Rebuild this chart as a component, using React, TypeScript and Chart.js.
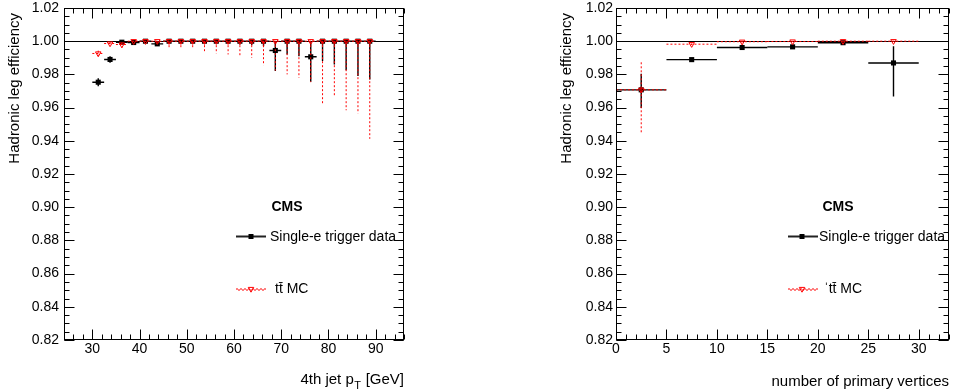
import React, { useEffect, useRef } from "react";
import { Chart, registerables } from "chart.js";

Chart.register(...registerables);

const FONT = "'Liberation Sans', Arial, Helvetica, sans-serif";

// ---------- shared y axis ----------
const yTickValues = [0.82, 0.84, 0.86, 0.88, 0.9, 0.92, 0.94, 0.96, 0.98, 1.0, 1.02];
const yMin = 0.82;
const yMax = 1.02;
const yMinorStep = 0.005;
const yTitle = "Hadronic leg efficiency";

// ---------- left panel: 4th jet pT ----------
const ptCenters = [31.25, 33.75, 36.25, 38.75, 41.25, 43.75, 46.25, 48.75, 51.25, 53.75, 56.25, 58.75, 61.25, 63.75, 66.25, 68.75, 71.25, 73.75, 76.25, 78.75, 81.25, 83.75, 86.25, 88.75];
const ptHalfWidth = 1.25;
const ptDataEff = [0.9753, 0.989, 0.9994, 0.9992, 1.0, 0.9984, 1.0, 1.0, 1.0, 1.0, 1.0, 1.0, 1.0, 1.0, 1.0, 0.9944, 1.0, 1.0, 0.9906, 1.0, 1.0, 1.0, 1.0, 1.0];
const ptDataErrLo = [0.0024, 0.002, 0.0006, 0.0006, 0.0003, 0.0008, 0.0004, 0.0005, 0.0006, 0.0008, 0.001, 0.0012, 0.002, 0.0025, 0.003, 0.0124, 0.008, 0.009, 0.0151, 0.012, 0.014, 0.0175, 0.021, 0.023];
const ptDataErrHi = [0.0024, 0.002, 0.0004, 0.0005, 0, 0.0009, 0, 0, 0, 0, 0, 0, 0, 0, 0, 0.0056, 0, 0, 0.0094, 0, 0, 0, 0, 0];
const ptMcEff = [0.9926, 0.9986, 0.998, 1.0, 1.0, 1.0, 1.0, 1.0, 1.0, 1.0, 1.0, 1.0, 1.0, 1.0, 1.0, 1.0, 1.0, 1.0, 1.0, 1.0, 1.0, 1.0, 1.0, 1.0];
const ptMcErrLo = [0.0017, 0.0008, 0.002, 0.0004, 0.0005, 0.001, 0.004, 0.004, 0.004, 0.006, 0.0074, 0.008, 0.0096, 0.01, 0.0145, 0.0177, 0.02, 0.022, 0.0247, 0.0375, 0.0337, 0.0416, 0.0435, 0.0588];
const ptMcErrHi = [0.0017, 0.0008, 0.001, 0, 0, 0, 0, 0, 0, 0, 0, 0, 0, 0, 0, 0, 0, 0, 0, 0, 0, 0, 0, 0];
const ptTicks = [30, 40, 50, 60, 70, 80, 90];
const ptMin = 24;
const ptMax = 96;
const ptMinorStep = 2;

// ---------- right panel: number of primary vertices ----------
const nvCenters = [2.5, 7.5, 12.5, 17.5, 22.5, 27.5];
const nvHalfWidth = 2.5;
const nvDataEff = [0.9707, 0.9889, 0.9962, 0.9966, 0.9991, 0.9869];
const nvDataErrLo = [0.011, 0.0006, 0.0004, 0.0004, 0.0012, 0.0202];
const nvDataErrHi = [0.0097, 0.0005, 0.0003, 0.0003, 0.0007, 0.0101];
const nvMcEff = [0.9707, 0.9982, 0.9997, 0.9998, 1.0, 1.0];
const nvMcErrLo = [0.0262, 0.0005, 0.0003, 0.0002, 0.0002, 0.0002];
const nvMcErrHi = [0.0166, 0.0003, 0.0002, 0.0002, 0, 0];
const nvTicks = [0, 5, 10, 15, 20, 25, 30];
const nvMin = 0;
const nvMax = 33;
const nvMinorStep = 1;

const legendData = "Single-e trigger data";
const legendMc = "t\u0074\u0304 MC";
const cmsLabel = "CMS";

type Panel = {
  x: number[];
  half: number;
  data: number[];
  dataLo: number[];
  dataHi: number[];
  mc: number[];
  mcLo: number[];
  mcHi: number[];
  xTicks: number[];
  xMin: number;
  xMax: number;
  xMinor: number;
  yWidth: number;
  padRight: number;
  yLabelPad: number;
  yTitleX: number;
  xTitleMain: string;
  xTitleSub?: string;
  xTitleAfter?: string;
  xTitleBaseline: number;
  mcPrefix?: string;
  cmsX: number;
  legLineX0: number;
  legMarkX: number;
  legTextX: number;
  legMcTextX: number;
};

function drawTriangleDown(ctx: CanvasRenderingContext2D, x: number, y: number, r: number) {
  ctx.beginPath();
  ctx.moveTo(x - r * 0.866, y - r * 0.5);
  ctx.lineTo(x + r * 0.866, y - r * 0.5);
  ctx.lineTo(x, y + r);
  ctx.closePath();
  ctx.stroke();
}

function makePlugin(p: Panel) {
  return {
    id: "rootStyle",
    beforeDatasetsDraw(chart: any) {
      const { ctx, chartArea: ca } = chart;
      const ys = chart.scales.y;
      const py = Math.round(ys.getPixelForValue(1.0)) + 0.5;
      ctx.save();
      ctx.strokeStyle = "#000";
      ctx.lineWidth = 1.2;
      ctx.beginPath();
      ctx.moveTo(ca.left, py);
      ctx.lineTo(ca.right, py);
      ctx.stroke();
      ctx.restore();
    },
    beforeDatasetDraw(chart: any, args: any) {
      const { ctx } = chart;
      const xs = chart.scales.x;
      const ys = chart.scales.y;
      const isMc = args.index === 0;
      const vals = isMc ? p.mc : p.data;
      const lo = isMc ? p.mcLo : p.dataLo;
      const hi = isMc ? p.mcHi : p.dataHi;
      ctx.save();
      if (isMc) {
        ctx.strokeStyle = "#ff0000";
        ctx.lineWidth = 1;
        ctx.setLineDash([2, 2]);
      } else {
        ctx.strokeStyle = "#000";
        ctx.lineWidth = 1.4;
      }
      for (let i = 0; i < p.x.length; i++) {
        const px = xs.getPixelForValue(p.x[i]);
        const py = ys.getPixelForValue(vals[i]);
        ctx.beginPath();
        ctx.moveTo(xs.getPixelForValue(p.x[i] - p.half), py);
        ctx.lineTo(xs.getPixelForValue(p.x[i] + p.half), py);
        ctx.moveTo(px, ys.getPixelForValue(vals[i] + hi[i]));
        ctx.lineTo(px, ys.getPixelForValue(vals[i] - lo[i]));
        ctx.stroke();
      }
      ctx.restore();
    },
    afterDraw(chart: any) {
      const { ctx, chartArea: ca } = chart;
      const xs = chart.scales.x;
      const ys = chart.scales.y;
      ctx.save();
      ctx.strokeStyle = "#000";
      ctx.lineWidth = 1;
      const L = Math.round(ca.left) + 0.5;
      const R = Math.round(ca.right) - 0.5;
      const T = Math.round(ca.top) + 0.5;
      const B = Math.round(ca.bottom) - 0.5;
      ctx.strokeRect(L, T, R - L, B - T);
      ctx.beginPath();
      const yTick = (v: number, len: number) => {
        const py = Math.round(ys.getPixelForValue(v)) + 0.5;
        ctx.moveTo(L, py);
        ctx.lineTo(L + len, py);
        ctx.moveTo(R, py);
        ctx.lineTo(R - len, py);
      };
      const xTick = (v: number, len: number) => {
        const px = Math.round(xs.getPixelForValue(v)) + 0.5;
        ctx.moveTo(px, B);
        ctx.lineTo(px, B - len);
        ctx.moveTo(px, T);
        ctx.lineTo(px, T + len);
      };
      for (let v = yMin; v <= yMax + 1e-9; v += yMinorStep) yTick(v, 5);
      yTickValues.forEach((v) => yTick(v, 10));
      for (let v = p.xMin + ((p.xMinor - (p.xMin % p.xMinor)) % p.xMinor); v <= p.xMax + 1e-9; v += p.xMinor) xTick(v, 5);
      p.xTicks.forEach((v) => xTick(v, 10));
      ctx.stroke();

      // y title
      ctx.fillStyle = "#000";
      ctx.font = `15px ${FONT}`;
      ctx.save();
      ctx.translate(p.yTitleX, 13);
      ctx.rotate(-Math.PI / 2);
      ctx.textAlign = "right";
      ctx.textBaseline = "alphabetic";
      ctx.fillText(yTitle, 0, 0);
      ctx.restore();

      // x title (right aligned at frame right)
      ctx.textBaseline = "alphabetic";
      ctx.textAlign = "left";
      const mainFont = `15px ${FONT}`;
      const subFont = `11px ${FONT}`;
      ctx.font = mainFont;
      const wMain = ctx.measureText(p.xTitleMain).width;
      const wAfter = p.xTitleAfter ? ctx.measureText(p.xTitleAfter).width : 0;
      ctx.font = subFont;
      const wSub = p.xTitleSub ? ctx.measureText(p.xTitleSub).width + 1 : 0;
      let tx = ca.right - (wMain + wSub + wAfter);
      const by = p.xTitleBaseline;
      ctx.font = mainFont;
      ctx.fillText(p.xTitleMain, tx, by);
      tx += wMain;
      if (p.xTitleSub) {
        ctx.font = subFont;
        ctx.fillText(p.xTitleSub, tx + 0.5, by + 5);
        tx += wSub;
      }
      if (p.xTitleAfter) {
        ctx.font = mainFont;
        ctx.fillText(p.xTitleAfter, tx, by);
      }

      // CMS label
      ctx.font = `bold 14px ${FONT}`;
      ctx.textAlign = "center";
      ctx.textBaseline = "middle";
      ctx.fillText(cmsLabel, p.cmsX, 207);

      // legend: data
      const yD = 236.5;
      const yM = 289;
      ctx.strokeStyle = "#222";
      ctx.lineWidth = 2;
      ctx.beginPath();
      ctx.moveTo(p.legLineX0, yD);
      ctx.lineTo(p.legLineX0 + 30, yD);
      ctx.stroke();
      ctx.fillStyle = "#000";
      ctx.fillRect(p.legMarkX - 2.5, yD - 2.5, 5, 5);
      ctx.font = `14px ${FONT}`;
      ctx.textAlign = "left";
      ctx.textBaseline = "middle";
      ctx.fillText(legendData, p.legTextX, yD + 0.5);

      // legend: MC
      ctx.strokeStyle = "#ff0000";
      ctx.lineWidth = 1;
      ctx.setLineDash([2, 2]);
      ctx.beginPath();
      ctx.moveTo(p.legLineX0, yM);
      ctx.lineTo(p.legLineX0 + 30, yM);
      ctx.stroke();
      ctx.lineDashOffset = 2;
      ctx.beginPath();
      ctx.moveTo(p.legLineX0, yM + 1);
      ctx.lineTo(p.legLineX0 + 30, yM + 1);
      ctx.stroke();
      ctx.setLineDash([]);
      ctx.lineWidth = 1;
      drawTriangleDown(ctx, p.legMarkX, yM, 3.2);
      ctx.fillStyle = "#000";
      ctx.fillText((p.mcPrefix || "") + legendMc, p.legMcTextX, yM + 0.5);
      ctx.restore();
    },
  };
}

function PanelChart({ p, left }: { p: Panel; left: number }) {
  const ref = useRef<HTMLCanvasElement | null>(null);
  useEffect(() => {
    if (!ref.current) return;
    const chart = new Chart(ref.current, {
      type: "scatter",
      data: {
        datasets: [
          {
            label: "MC",
            data: p.x.map((x, i) => ({ x, y: p.mc[i] })),
            pointStyle: "triangle",
            rotation: 180,
            pointRadius: 3.2,
            borderColor: "#ff0000",
            backgroundColor: "rgba(0,0,0,0)",
            borderWidth: 1,
            showLine: false,
          },
          {
            label: "data",
            data: p.x.map((x, i) => ({ x, y: p.data[i] })),
            pointStyle: "rect",
            pointRadius: 3.6,
            borderColor: "#000",
            backgroundColor: "#000",
            borderWidth: 0,
            showLine: false,
          },
        ],
      },
      options: {
        animation: false,
        responsive: false,
        maintainAspectRatio: false,
        events: [],
        layout: { padding: { left: 0, top: 8, right: p.padRight, bottom: 0 } },
        plugins: { legend: { display: false }, tooltip: { enabled: false }, title: { display: false } },
        scales: {
          x: {
            type: "linear",
            min: p.xMin,
            max: p.xMax,
            grid: { display: false, drawTicks: false },
            border: { display: false },
            ticks: { color: "#000", font: { family: FONT, size: 14 }, padding: 1, maxRotation: 0 },
            afterBuildTicks: (s: any) => {
              s.ticks = p.xTicks.map((v) => ({ value: v }));
            },
            afterFit: (s: any) => {
              s.height = 52;
              s.paddingLeft = 0;
              s.paddingRight = 0;
              s.paddingTop = 0;
              s.paddingBottom = 0;
            },
          },
          y: {
            type: "linear",
            min: yMin,
            max: yMax,
            grid: { display: false, drawTicks: false },
            border: { display: false },
            ticks: {
              color: "#000",
              font: { family: FONT, size: 14 },
              padding: p.yLabelPad,
              callback: (v: any) => Number(v).toFixed(2),
            },
            afterBuildTicks: (s: any) => {
              s.ticks = yTickValues.map((v) => ({ value: v }));
            },
            afterFit: (s: any) => {
              s.width = p.yWidth;
              s.paddingTop = 0;
              s.paddingBottom = 0;
              s.paddingLeft = 0;
              s.paddingRight = 0;
            },
          },
        },
      } as any,
      plugins: [makePlugin(p)],
    });
    return () => chart.destroy();
  }, [p]);
  return (
    <canvas
      ref={ref}
      width={477}
      height={392}
      style={{ position: "absolute", left, top: 0, width: 477, height: 392 }}
    />
  );
}

const leftPanel: Panel = {
  x: ptCenters,
  half: ptHalfWidth,
  data: ptDataEff,
  dataLo: ptDataErrLo,
  dataHi: ptDataErrHi,
  mc: ptMcEff,
  mcLo: ptMcErrLo,
  mcHi: ptMcErrHi,
  xTicks: ptTicks,
  xMin: ptMin,
  xMax: ptMax,
  xMinor: ptMinorStep,
  yWidth: 64,
  padRight: 73,
  yLabelPad: 5,
  yTitleX: 19,
  xTitleMain: "4th jet p",
  xTitleSub: "T",
  xTitleAfter: " [GeV]",
  xTitleBaseline: 384,
  cmsX: 287,
  legLineX0: 236,
  legMarkX: 251,
  legTextX: 270,
  legMcTextX: 275,
};

const rightPanel: Panel = {
  x: nvCenters,
  half: nvHalfWidth,
  data: nvDataEff,
  dataLo: nvDataErrLo,
  dataHi: nvDataErrHi,
  mc: nvMcEff,
  mcLo: nvMcErrLo,
  mcHi: nvMcErrHi,
  xTicks: nvTicks,
  xMin: nvMin,
  xMax: nvMax,
  xMinor: nvMinorStep,
  yWidth: 139,
  padRight: 1,
  yLabelPad: 3,
  yTitleX: 93.5,
  xTitleMain: "number of primary vertices",
  xTitleBaseline: 386,
  mcPrefix: "\u02c8",
  cmsX: 361,
  legLineX0: 311,
  legMarkX: 325,
  legTextX: 342,
  legMcTextX: 347,
};

export default function App() {
  return (
    <div style={{ position: "absolute", left: 0, top: 0, width: 954, height: 392, background: "#fff" }}>
      <PanelChart p={leftPanel} left={0} />
      <PanelChart p={rightPanel} left={477} />
    </div>
  );
}
